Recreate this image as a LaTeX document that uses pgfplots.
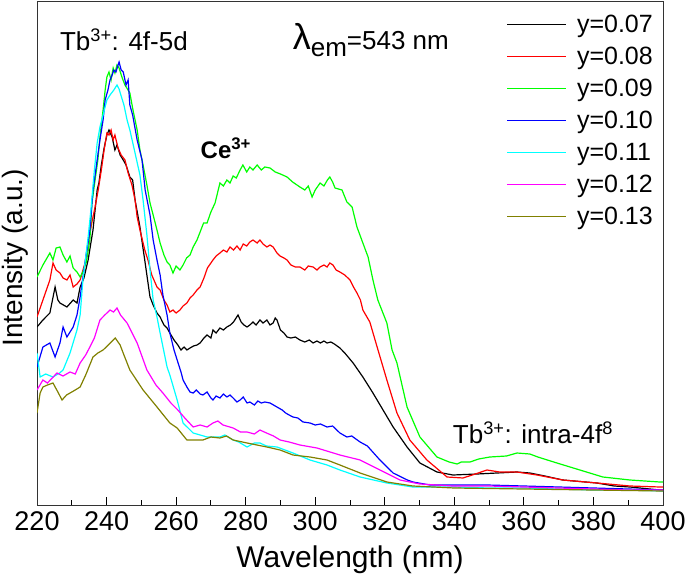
\documentclass[border=0pt]{standalone}
\usepackage{pgfplots}
\pgfplotsset{compat=1.18}
\usepackage{fontspec}
\setmainfont{Liberation Sans}
\definecolor{cgreen}{RGB}{0,255,0}
\definecolor{ccyan}{RGB}{0,255,255}
\definecolor{cmag}{RGB}{255,0,255}
\definecolor{colive}{RGB}{128,128,0}
\definecolor{cred}{RGB}{255,0,0}
\definecolor{cblue}{RGB}{0,0,255}
\begin{document}
\begin{tikzpicture}
\begin{axis}[
  scale only axis, width=626pt, height=504pt,
  xmin=220, xmax=400, ymin=0, ymax=504,
  xtick={220,240,...,400}, minor x tick num=1,
  ytick=\empty, xtick pos=bottom, tick align=inside,
  major tick length=8pt, minor tick length=5pt,
  axis line style={line width=0.9pt, black!80},
  every tick/.style={black, line width=0.9pt},
  /pgf/number format/assume math mode=true,
  /pgf/number format/set thousands separator={},
  xticklabel style={font=\fontsize{27}{27}\selectfont, anchor=center, yshift=-16pt, inner sep=0pt},
  xlabel={Wavelength (nm)},
  xlabel style={font=\fontsize{30}{30}\selectfont, at={(axis description cs:0.5,0)}, anchor=center, yshift=-55pt},
  legend style={draw=none, fill=none, at={(rel axis cs:1,1)}, anchor=north east, xshift=-8pt, yshift=-12pt,
    font=\fontsize{25}{25}\selectfont, row sep=9pt, column sep=8pt, inner sep=0pt},
  legend cell align=left,
  legend image code/.code={\draw[#1] (0pt,0pt) -- (59pt,0pt);},
  every axis plot/.append style={line width=1.2pt},
]
% y=0.07 black
\addplot[black] coordinates {
(220,178)(221.7,185)(223.7,192)(225.2,218)(226.0,205)(226.6,202)(228.6,198)(230.4,205)(231.5,202)(232.4,218)(233.5,227)(234.7,245)(236.1,275)(237.3,315)(237.8,322)(238.5,340)(239.3,357)(240.1,370)(240.7,375)(241.6,368)(242.4,355)(243.0,360)(243.9,350)(244.8,345)(245.6,340)(246.7,328)(247.5,325)(248.2,305)(249.6,278)(251.1,242)(252.5,208)(253.4,200)(254.5,192)(255.4,188)(256.5,180)(257.4,177)(258.2,172)(259.4,165)(260.5,160)(261.4,155)(262.3,158)(263.1,155)(264.0,157)(265.0,159)(266.0,160)(266.9,162)(268.0,167)(268.9,170)(270.0,167)(270.6,175)(271.5,172)(272.6,177)(273.6,175)(274.6,178)(275.6,180)(276.5,183)(277.8,190)(278.7,183)(279.5,180)(280.4,178)(281.2,180)(282.1,183)(283.0,180)(284.1,185)(285.0,182)(286.1,185)(287.0,180)(287.9,182)(288.5,187)(289.0,185)(290.0,175)(291.0,172)(291.9,168)(293.0,167)(294.3,168)(295.6,165)(297.0,163)(298.3,165)(299.4,162)(300.5,164)(301.5,162)(302.5,164)(303.4,162)(304.5,163)(305.5,161)(307.1,157)(308.5,152)(310.9,142)(313.7,128)(316.6,112)(319.5,95)(322.4,78)(326.4,58)(330.1,42)(335.0,33)(339.6,30)(346.5,31)(352.3,32)(358,33)(361.7,32)(366,29)(371.2,25)(381.0,22)(386,19)(390.5,18)(399.1,15)(400,15)};
\addlegendentry{y=0.07}
% y=0.08 red
\addplot[cred] coordinates {
(220,188)(221.7,205)(223.7,225)(224.6,242)(225.5,235)(226.6,232)(227.5,227)(228.6,225)(229.5,230)(230.4,218)(231.5,221)(232.4,225)(233.8,242)(234.7,262)(235.8,283)(236.7,298)(237.6,315)(238.5,335)(239.3,355)(240.1,372)(240.7,370)(241.3,375)(241.9,365)(242.4,370)(243.3,357)(244.2,350)(245.3,345)(246.2,332)(247.3,320)(248.2,305)(248.8,288)(249.6,275)(251.0,255)(251.9,245)(253.0,230)(254.5,218)(255.4,215)(256.5,205)(257.4,200)(258.2,193)(259.1,195)(260.0,192)(261.1,195)(262.0,199)(263.1,202)(264.0,207)(264.9,210)(266.0,215)(266.9,218)(268.0,227)(269.0,237)(270.6,245)(271.5,249)(272.6,252)(273.6,255)(274.6,253)(275.5,258)(276.5,255)(277.5,259)(278.4,255)(279.3,261)(280.3,259)(281.2,263)(282.1,265)(283.3,262)(284.1,265)(285.0,261)(286.1,258)(287.0,260)(287.9,258)(289.0,252)(289.9,249)(291.0,247)(291.9,245)(293.0,240)(294.3,238)(295.6,238)(297.0,235)(298.0,239)(299.4,238)(300.5,235)(301.4,238)(302.5,240)(303.4,238)(304.2,242)(305.1,240)(306.0,235)(307.1,233)(308.5,230)(310.0,225)(311.0,218)(312.0,212)(313.0,205)(313.7,195)(315.7,183)(317.8,158)(320.6,125)(323.5,92)(327.2,65)(332.1,45)(337.9,28)(342.5,27)(346,31)(349.4,35)(353,33)(358.0,33)(363.8,30)(371.2,25)(381.0,22)(390.5,19)(399.1,18)(400,18)};
\addlegendentry{y=0.08}
% y=0.09 green
\addplot[cgreen] coordinates {
(220,228)(221.7,240)(223.7,252)(224.6,245)(225.5,257)(226.6,258)(227.5,250)(228.6,243)(229.5,249)(230.4,237)(231.5,233)(232.4,228)(233.2,233)(234.2,243)(235.2,265)(235.8,302)(236.7,325)(237.5,345)(238.1,368)(239.0,395)(239.6,415)(240.1,428)(240.7,433)(241.3,425)(241.9,437)(242.4,432)(243.0,440)(243.6,437)(244.5,427)(245.3,420)(246.7,412)(247.6,395)(248.8,375)(249.6,355)(250.5,340)(251.6,320)(252.5,302)(253.4,290)(254.5,275)(255.4,262)(256.5,250)(257.4,243)(258.2,240)(259.1,232)(260.0,239)(261.1,235)(262.0,240)(263.0,247)(264.0,250)(264.9,258)(266.0,265)(266.9,273)(267.9,282)(268.9,282)(270.0,293)(271.2,302)(272.6,322)(273.6,319)(274.6,325)(275.5,322)(276.4,329)(277.3,327)(278.4,335)(279.2,340)(280.3,333)(281.2,338)(282.1,335)(283.3,340)(284.5,335)(285.5,338)(287.0,337)(288.5,333)(290.0,331)(291.9,328)(293.5,323)(295.6,318)(297.0,315)(298.0,319)(299.1,308)(300.0,315)(301.4,322)(302.5,319)(303.5,325)(304.2,328)(305.0,323)(305.7,317)(307.7,315)(309.1,303)(310.6,298)(312.0,278)(313.7,262)(315.2,248)(316.6,225)(318.0,205)(320.6,182)(322.1,155)(323.5,142)(326.4,98)(330.1,68)(335.0,48)(338.5,43)(340.8,41)(342.0,43)(344.5,43)(347.0,46)(350.2,48)(355,49)(358.0,52)(361.7,51)(364,48)(369.5,42)(376.1,35)(382.7,28)(390.5,25)(399.1,23)(400,23)};
\addlegendentry{y=0.09}
% y=0.10 blue
\addplot[cblue] coordinates {
(220,138)(221.7,158)(223.7,162)(225.2,148)(226.6,162)(227.5,178)(228.6,168)(230.4,178)(231.5,190)(232.4,208)(233.8,242)(235.2,275)(236.1,315)(237.3,345)(238.1,365)(239.0,385)(239.6,405)(240.4,415)(241.0,425)(241.6,430)(242.1,435)(242.7,433)(243.3,440)(243.6,443)(244.2,435)(244.8,433)(245.6,420)(246.2,425)(246.7,400)(247.5,390)(248.8,365)(250.2,345)(251.1,315)(252.5,290)(253.4,265)(254.5,245)(255.4,230)(256.2,210)(257.4,190)(258.2,172)(259.4,155)(260.3,145)(261.4,133)(262.0,125)(263.1,118)(264.0,113)(264.9,112)(265.8,115)(266.9,111)(267.7,110)(268.9,113)(270.0,107)(270.6,105)(271.5,109)(272.6,107)(273.6,111)(274.6,108)(275.5,110)(276.4,107)(277.5,103)(278.4,105)(279.3,108)(280.4,102)(281.2,103)(282.5,100)(283.5,104)(284.5,102)(285.5,103)(287.0,102)(288.0,100)(289.0,98)(290.5,95)(291.5,92)(292.5,90)(293.6,88)(295.0,87)(296.5,83)(298.5,82)(300.0,80)(301.5,81)(303.4,78)(305.0,79)(307.1,72)(309.1,68)(310.5,69)(312.9,63)(315.0,59)(318.6,45)(322.4,32)(326.5,25)(328.1,23)(333.0,20)(339.6,20)(349.4,20)(360,19)(370,18)(380,17)(390,16)(400,15)};
\addlegendentry{y=0.10}
% y=0.11 cyan
\addplot[ccyan] coordinates {
(220,152)(220.9,128)(222.5,131)(224.6,128)(226.5,132)(227.5,135)(229.5,152)(231.5,175)(232.4,190)(233.2,225)(234.7,268)(235.5,295)(236.5,335)(237.3,362)(238.1,378)(239.0,390)(240.1,405)(241.0,410)(242.1,415)(243.0,420)(243.6,416)(244.2,409)(245.0,400)(245.9,385)(246.7,375)(248.0,355)(249.6,330)(250.5,305)(251.6,270)(252.5,235)(253.4,205)(254.5,188)(255.4,172)(257.4,138)(258.2,130)(260.3,105)(262.0,82)(264.9,72)(268.9,68)(272.6,68)(274.0,70)(276.4,65)(278.0,63)(280.4,58)(282.5,62)(284.1,62)(286.0,59)(289.0,58)(293.6,52)(298.5,45)(303.4,40)(307.1,35)(312.9,28)(320.6,22)(328.1,18)(339.6,18)(350,17)(360,17)(370,16)(380,15)(390,15)(400,14)};
\addlegendentry{y=0.11}
% y=0.12 magenta
\addplot[cmag] coordinates {
(220,115)(221.7,125)(223.0,122)(225.75,132)(227.5,129)(229.5,133)(231.0,131)(232.4,142)(234.0,150)(235.2,158)(236.5,167)(238.1,185)(239.5,190)(241.0,195)(242.0,193)(243.0,197)(244.0,190)(245.9,182)(248.8,162)(251.6,135)(254.2,120)(256.2,112)(258.5,102)(260.5,95)(262.5,87)(264.9,78)(266.9,80)(268.9,78)(270.6,82)(272.0,84)(273.5,80)(276.4,77)(278.5,73)(280.4,73)(282.5,71)(284.1,75)(286.0,72)(288.0,69)(289.9,65)(292.5,63)(295.6,60)(300.5,57)(307.1,50)(312.9,45)(318.6,35)(324.4,25)(330.1,21)(339.6,19)(350,19)(360,18)(370,17)(380,16)(390,15)(400,15)};
\addlegendentry{y=0.12}
% y=0.13 olive
\addplot[colive] coordinates {
(220,92)(220.9,112)(221.7,118)(223.0,120)(224.6,122)(226.0,113)(227.2,105)(228.5,110)(229.5,112)(231.0,115)(232.4,118)(234.0,130)(236.1,148)(237.5,152)(239.0,155)(240.5,160)(241.9,165)(242.5,167)(243.9,160)(245.0,150)(246.7,135)(250.5,115)(254.5,98)(258.2,82)(260.3,77)(263.1,65)(267.7,65)(270.0,68)(272.6,67)(274.5,69)(276.4,65)(280.4,62)(286.1,58)(289.9,55)(293.6,50)(298.5,48)(303.4,45)(307.1,40)(312.9,32)(320.6,23)(328.1,19)(340,17)(360,16)(380,15)(400,14)};
\addlegendentry{y=0.13}
\node[font=\fontsize{26}{26}\selectfont] at (axis cs:245,465) {Tb\textsuperscript{3+}: 4f-5d};
\node[font=\fontsize{26}{26}\selectfont] at (axis cs:316,465) {{\fontsize{36}{36}\selectfont λ}\raisebox{-0.3em}{em}=543 nm};
\node[font=\fontsize{24}{24}\selectfont\bfseries] at (axis cs:274.3,357) {Ce\textsuperscript{3+}};
\node[font=\fontsize{26}{26}\selectfont] at (axis cs:362.6,72) {Tb\textsuperscript{3+}: intra-4f\textsuperscript{8}};
\end{axis}
\node[rotate=90, font=\fontsize{28}{28}\selectfont, anchor=center, inner sep=0pt] at (-22pt,247pt) {Intensity (a.u.)};
\pgfresetboundingbox
\path[use as bounding box] (-37pt,-71pt) rectangle (648pt,505pt);
\end{tikzpicture}
\end{document}
